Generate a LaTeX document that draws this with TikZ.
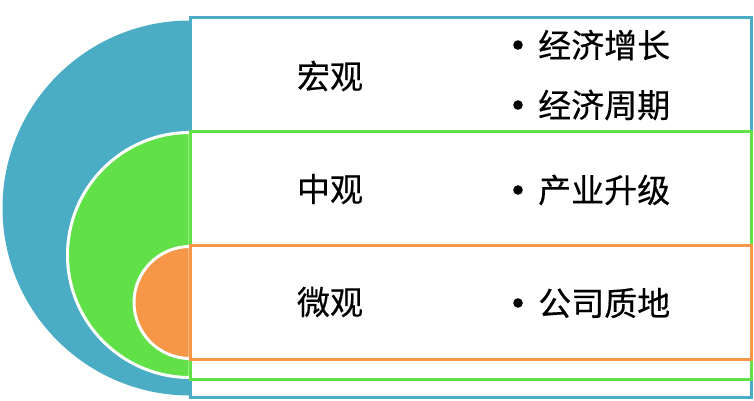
\documentclass[tikz,border=0pt]{standalone}
\usepackage{fontspec}
\newfontfamily\cjk[FakeBold=0.4]{Noto Sans CJK SC}
\definecolor{cblue}{RGB}{75,172,198}
\definecolor{cgreen}{RGB}{98,224,72}
\definecolor{corange}{RGB}{247,150,70}
\tikzset{
  lbl/.style={font=\cjk\fontsize{33}{33}\selectfont, inner sep=0pt, text=black},
  itm/.style={lbl, anchor=west},
  frame/.style={line width=3pt},
  halo/.style={draw=white, line width=3pt}
}
\begin{document}
\begin{tikzpicture}[x=1pt,y=1pt]
\useasboundingbox (0,0) rectangle (754,400);
% blue level
\fill[cblue] (190,379.5) arc[start angle=90, end angle=270, radius=187.5] -- cycle;
\draw[frame, draw=cblue] (190,382) rectangle (751,2.5);
% green level
\filldraw[fill=cgreen, halo] (190,267.5) arc[start angle=90, end angle=270, radius=122.5] -- cycle;
\draw[frame, draw=cgreen] (190,269) rectangle (751,21);
% orange level
\filldraw[fill=corange, halo] (190,153.5) arc[start angle=90, end angle=270, radius=56] -- cycle;
\draw[frame, draw=corange] (190,155) rectangle (751,41);
% labels
\node[lbl] (macro) at (330,324) {宏观};
\node[lbl] (meso) at (330,211) {中观};
\node[lbl] (micro) at (330,98) {微观};
% items
\coordinate (d1) at (518,355);
\coordinate (d2) at (518,295);
\coordinate (d3) at (518,210);
\coordinate (d4) at (518,97);
\foreach \d in {d1,d2,d3,d4} \fill[black] (\d) circle[radius=4.8];
\node[itm] (i1) at (538,355) {经济增长};
\node[itm] (i2) at (538,295) {经济周期};
\node[itm] (i3) at (538,210) {产业升级};
\node[itm] (i4) at (538,97) {公司质地};
\end{tikzpicture}
\end{document}
